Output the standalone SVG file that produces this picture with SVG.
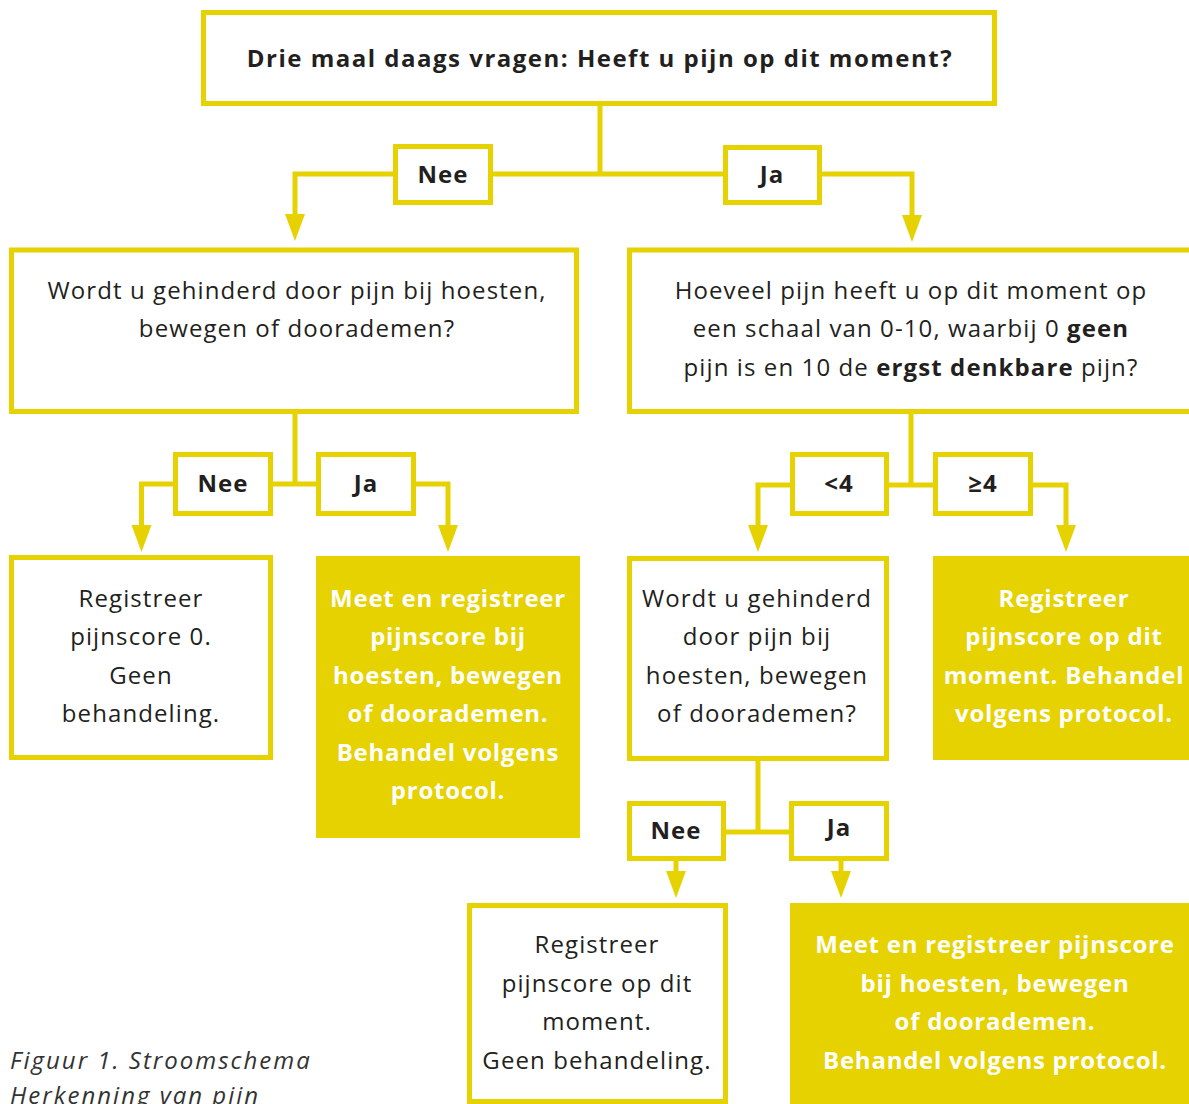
<svg xmlns="http://www.w3.org/2000/svg" width="1189" height="1104" viewBox="0 0 1189 1104">
<defs>
<style>
.box{fill:#fff;stroke:#E6D200;stroke-width:5}
.fill{fill:#E6D200}
.lbl{fill:#fff;stroke:#E6D200;stroke-width:5}
.ln{fill:none;stroke:#E6D200;stroke-width:5}
text{font-family:"Open Sans","Noto Sans","Liberation Sans",sans-serif;font-size:24px;fill:#231f20;text-anchor:middle;letter-spacing:1.1px}
.b{font-weight:bold}
.h{font-weight:bold;letter-spacing:1.5px}
.l{font-weight:bold;letter-spacing:1px}
.w{fill:#fff;font-weight:bold;letter-spacing:0.75px}
.cap{font-style:italic;text-anchor:start;fill:#333;letter-spacing:2px}
</style>
<marker id="arr" markerUnits="userSpaceOnUse" markerWidth="28" markerHeight="22" viewBox="0 -11 28 22" refX="0" refY="0" orient="auto">
<path d="M0,-10 L27,0 L0,10 Z" fill="#E6D200"/>
</marker>
</defs>
<rect width="1189" height="1104" fill="#fff"/>
<g id="connectors">
<path class="ln" d="M600,105 V174 H493 M600,174 H723"/>
<path class="ln" d="M393,174 H295 V214" marker-end="url(#arr)"/>
<path class="ln" d="M822,174 H912 V215" marker-end="url(#arr)"/>
<path class="ln" d="M295,412 V484 H273 M295,484 H316"/>
<path class="ln" d="M173,484 H141.5 V525" marker-end="url(#arr)"/>
<path class="ln" d="M416,484 H448 V525" marker-end="url(#arr)"/>
<path class="ln" d="M911,412 V485 H889 M911,485 H933"/>
<path class="ln" d="M790,485 H758 V525" marker-end="url(#arr)"/>
<path class="ln" d="M1033,485 H1066 V525" marker-end="url(#arr)"/>
<path class="ln" d="M758,761 V832 H726 M758,832 H789"/>
<path class="ln" d="M676,861 V871" marker-end="url(#arr)"/>
<path class="ln" d="M841,861 V871" marker-end="url(#arr)"/>
</g>
<g id="start">
<rect class="box" x="203.5" y="12.5" width="791" height="91"/>
<text class="h" x="600" y="67">Drie maal daags vragen: Heeft u pijn op dit moment?</text>
</g>
<g id="lbl-nee-1"><rect class="lbl" x="395.5" y="146.5" width="95" height="56"/><text class="l" x="443" y="183">Nee</text></g>
<g id="lbl-ja-1"><rect class="lbl" x="725.5" y="147.5" width="94" height="55"/><text class="l" x="772" y="183">Ja</text></g>
<g id="q-hinder">
<rect class="box" x="11.5" y="250" width="565" height="161.5"/>
<text x="297" y="299">Wordt u gehinderd door pijn bij hoesten,</text>
<text x="297" y="337">bewegen of doorademen?</text>
</g>
<g id="q-score">
<rect class="box" x="629.5" y="250" width="600" height="161.5"/>
<text x="911" y="299">Hoeveel pijn heeft u op dit moment op</text>
<text x="911" y="337">een schaal van 0-10, waarbij 0 <tspan class="b">geen</tspan></text>
<text x="911" y="376">pijn is en 10 de <tspan class="b">ergst denkbare</tspan> pijn?</text>
</g>
<g id="lbl-nee-2"><rect class="lbl" x="175.5" y="454.5" width="95" height="59"/><text class="l" x="223" y="492">Nee</text></g>
<g id="lbl-ja-2"><rect class="lbl" x="318.5" y="454.5" width="95" height="59"/><text class="l" x="366" y="492">Ja</text></g>
<g id="lbl-lt4"><rect class="lbl" x="792.5" y="454.5" width="94" height="59"/><text class="l" x="839" y="492">&lt;4</text></g>
<g id="lbl-ge4"><rect class="lbl" x="935.5" y="454.5" width="95" height="59"/><text class="l" x="983" y="492">≥4</text></g>
<g id="r-zero">
<rect class="box" x="11.5" y="557.5" width="259" height="200"/>
<text x="141" y="607">Registreer</text>
<text x="141" y="645">pijnscore 0.</text>
<text x="141" y="684">Geen</text>
<text x="141" y="722">behandeling.</text>
</g>
<g id="r-meet-1">
<rect class="fill" x="316" y="556" width="264" height="282"/>
<text class="w" x="448" y="607">Meet en registreer</text>
<text class="w" x="448" y="645">pijnscore bij</text>
<text class="w" x="448" y="684">hoesten, bewegen</text>
<text class="w" x="448" y="722">of doorademen.</text>
<text class="w" x="448" y="761">Behandel volgens</text>
<text class="w" x="448" y="799">protocol.</text>
</g>
<g id="q-hinder-2">
<rect class="box" x="629.5" y="558.5" width="257" height="200"/>
<text x="757" y="607">Wordt u gehinderd</text>
<text x="757" y="645">door pijn bij</text>
<text x="757" y="684">hoesten, bewegen</text>
<text x="757" y="722">of doorademen?</text>
</g>
<g id="r-behandel">
<rect class="fill" x="933" y="556" width="260" height="204"/>
<text class="w" x="1064" y="607">Registreer</text>
<text class="w" x="1064" y="645">pijnscore op dit</text>
<text class="w" x="1064" y="684">moment. Behandel</text>
<text class="w" x="1064" y="722">volgens protocol.</text>
</g>
<g id="lbl-nee-3"><rect class="lbl" x="629.5" y="803.5" width="94" height="55"/><text class="l" x="676" y="839">Nee</text></g>
<g id="lbl-ja-3"><rect class="lbl" x="791.5" y="803.5" width="95" height="55"/><text class="l" x="839" y="836">Ja</text></g>
<g id="r-moment">
<rect class="box" x="469.5" y="905.5" width="256" height="196"/>
<text x="597" y="953">Registreer</text>
<text x="597" y="992">pijnscore op dit</text>
<text x="597" y="1030">moment.</text>
<text x="597" y="1069">Geen behandeling.</text>
</g>
<g id="r-meet-2">
<rect class="fill" x="790" y="903" width="403" height="205"/>
<text class="w" x="995" y="953">Meet en registreer pijnscore</text>
<text class="w" x="995" y="992">bij hoesten, bewegen</text>
<text class="w" x="995" y="1030">of doorademen.</text>
<text class="w" x="995" y="1069">Behandel volgens protocol.</text>
</g>
<g id="caption">
<text class="cap" x="10" y="1069">Figuur 1. Stroomschema</text>
<text class="cap" x="10" y="1104">Herkenning van pijn</text>
</g>
</svg>
